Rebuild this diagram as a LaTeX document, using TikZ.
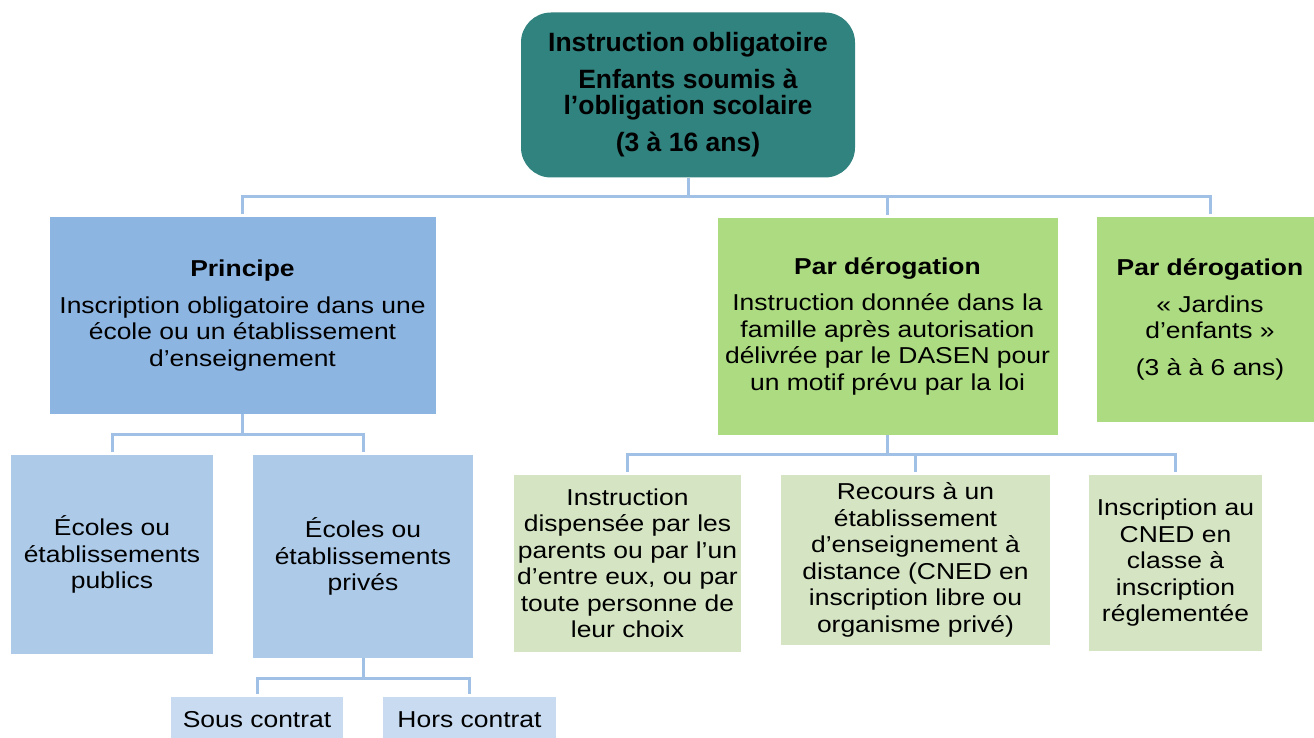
\documentclass[tikz,border=0pt]{standalone}
\usepackage{fontspec}
\setmainfont{Liberation Sans}
\newfontfamily\wfont[FakeStretch=1.15]{Liberation Sans}
\definecolor{tealbox}{RGB}{49,131,127}
\definecolor{bluemain}{RGB}{141,181,226}
\definecolor{bluesub}{RGB}{173,203,233}
\definecolor{bluesmall}{RGB}{200,219,240}
\definecolor{greenmain}{RGB}{173,219,129}
\definecolor{greensub}{RGB}{213,229,196}
\definecolor{connc}{RGB}{160,192,229}
\begin{document}
\begin{tikzpicture}[x=1pt,y=-1pt,
  box/.style={inner sep=0pt, align=center, text=black, font=\wfont\fontsize{23}{26.5}\selectfont},
  topbox/.style={inner sep=0pt, align=center, text=black, rounded corners=30pt, fill=tealbox,
    font=\fontsize{26.5}{26}\selectfont\bfseries},
  conn/.style={draw=connc, line width=3pt},
  drop/.style={conn, shorten >=3pt}]
\useasboundingbox (0,0) rectangle (1314,738);
\clip (0,0) rectangle (1314,738);

% top
\node[topbox, minimum width=334pt, minimum height=165pt] (top) at (688,95)
  {Instruction obligatoire\\[11pt] Enfants soumis à\\ l’obligation scolaire\\[11pt] (3 à 16 ans)};

% level 2
\node[box, fill=bluemain, minimum width=386pt, minimum height=196pt] (princ) at (242.5,315.5)
  {\textbf{Principe}\\[10pt] Inscription obligatoire dans une\\ école ou un établissement\\ d’enseignement};
\node[box, fill=greenmain, minimum width=340pt, minimum height=217pt] (mid) at (887.5,326.5)
  {\textbf{Par dérogation}\\[9.5pt] Instruction donnée dans la\\ famille après autorisation\\ délivrée par le DASEN pour\\ un motif prévu par la loi};
\node[box, fill=greenmain, minimum width=226pt, minimum height=205pt] (right) at (1210,319.5)
  {\textbf{Par dérogation}\\[10pt] «~Jardins\\ d’enfants~»\\[10pt] (3 à à 6 ans)};

% level 3 left
\node[box, fill=bluesub, minimum width=202pt, minimum height=199pt] (pub) at (112,554.5)
  {Écoles ou\\ établissements\\ publics};
\node[box, fill=bluesub, minimum width=220pt, minimum height=203pt] (priv) at (363,556.5)
  {Écoles ou\\ établissements\\ privés};

% level 4
\node[box, fill=bluesmall, minimum width=172pt, minimum height=46pt] (sous) at (257,720)
  {Sous contrat};
\node[box, fill=bluesmall, minimum width=173pt, minimum height=46pt] (hors) at (469.5,720)
  {Hors contrat};

% level 3 right
\node[box, fill=greensub, minimum width=227pt, minimum height=177pt] (g1) at (627.5,563.5)
  {Instruction\\ dispensée par les\\ parents ou par l’un\\ d’entre eux, ou par\\ toute personne de\\ leur choix};
\node[box, fill=greensub, minimum width=269pt, minimum height=170pt] (g2) at (915.5,560)
  {Recours à un\\ établissement\\ d’enseignement à\\ distance (CNED en\\ inscription libre ou\\ organisme privé)};
\node[box, fill=greensub, minimum width=173pt, minimum height=176pt] (g3) at (1175.5,563)
  {Inscription au\\ CNED en\\ classe à\\ inscription\\ réglementée};

% connectors
\coordinate (b1) at (688,197);
\draw[conn] (top.south) -- (b1);
\draw[drop] (b1) -| (princ.north);
\draw[drop] (b1) -| (mid.north);
\draw[drop] (b1) -| (right.north);

\coordinate (b2) at (242.5,434);
\draw[conn] (princ.south) -- (b2);
\draw[drop] (b2) -| (pub.north);
\draw[drop] (b2) -| (priv.north);

\coordinate (b3) at (363,678);
\draw[conn] (priv.south) -- (b3);
\draw[drop] (b3) -| (sous.north);
\draw[drop] (b3) -| (hors.north);

\coordinate (b4) at (887.5,454);
\draw[conn] (mid.south) -- (b4);
\draw[drop] (b4) -| (g1.north);
\draw[drop] (b4) -| (g2.north);
\draw[drop] (b4) -| (g3.north);
\end{tikzpicture}
\end{document}
